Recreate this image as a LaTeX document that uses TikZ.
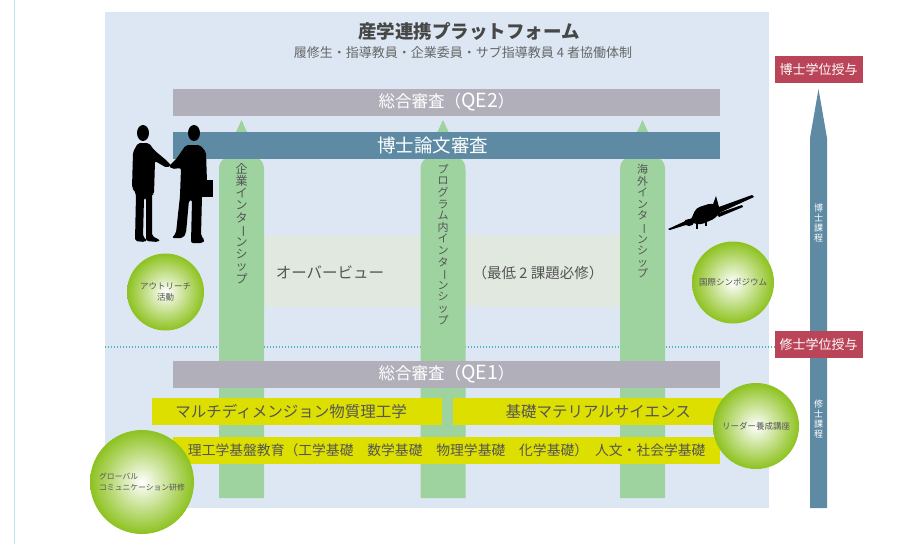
\documentclass[tikz,border=0pt]{standalone}
\usepackage{fontspec}
\setmainfont{Noto Sans CJK JP}
\usetikzlibrary{positioning}

\definecolor{platbg}{HTML}{DCE7F3}
\definecolor{qegray}{HTML}{B1AFB9}
\definecolor{steel}{HTML}{5E8BA3}
\definecolor{colgreen}{HTML}{9ED3A0}
\definecolor{bandgreen}{HTML}{E0E8DF}
\definecolor{lime}{HTML}{DCDF00}
\definecolor{degreered}{HTML}{BA4458}
\definecolor{ballgreen}{HTML}{8DC21F}
\definecolor{dotcyan}{HTML}{4CB4C8}
\definecolor{edgeline}{HTML}{BEE3F0}
\definecolor{textgray}{HTML}{555555}

% vertical long vowel mark for stacked text
\newcommand{\chouon}{\raisebox{0pt}[0.85em][0.15em]{\rotatebox[origin=c]{-90}{ー}}}
% larger latin part inside the review labels
\newcommand{\qe}[1]{{\fontsize{19.5}{20}\selectfont #1}}

\begin{document}
\begin{tikzpicture}[
    x=1pt, y=-1pt,
    bar/.style={rectangle, minimum width=547pt, minimum height=27pt, inner sep=0pt, text=white},
    qebar/.style={bar, fill=qegray, font=\fontsize{16.5}{18}\selectfont},
    thesis/.style={bar, fill=steel, font=\fontsize{18.5}{20}\selectfont},
    course/.style={rectangle, fill=lime, minimum height=27pt, inner sep=0pt, text=textgray, font=\fontsize{15.5}{17}\selectfont},
    degree/.style={rectangle, fill=degreered, minimum width=88pt, minimum height=27pt, inner sep=0pt, text=white, font=\fontsize{13}{15}\selectfont},
    ball/.style={circle, shade, inner color=white, outer color=ballgreen, inner sep=0pt, text=textgray, align=center, font=\fontsize{8.5}{11}\selectfont},
    tate/.style={anchor=north, align=center, inner sep=0pt, text=textgray, font=\fontsize{11}{11.6}\selectfont},
    tatesmall/.style={align=center, inner sep=0pt, text=white, font=\fontsize{9}{10}\selectfont}
]
\useasboundingbox (0,0) rectangle (923,544);

% page edge line and platform background
\draw[edgeline, line width=1.5pt] (14.5,0) -- (14.5,544);
\fill[platbg] (105,12) rectangle (769,508);

\node[font=\bfseries\fontsize{18.5}{20}\selectfont, text=black!72] (title) at (469,31) {産学連携プラットフォーム};
\node[font=\fontsize{13}{14}\selectfont, text=black!60] (subtitle) at (463,52) {履修生・指導教員・企業委員・サブ指導教員 4 者協働体制};

% overview band
\fill[bandgreen] (264,235) rectangle (620,307);
\node[font=\fontsize{15.5}{17}\selectfont, text=textgray] (overview) at (330,272) {オーバービュー};
\node[font=\fontsize{14.5}{16}\selectfont, text=textgray] (minimum) at (538,273) {（最低 2 課題必修）};

% doctoral course arrow
\fill[steel] (810,508) -- (810,138) -- (818.5,89) -- (827,138) -- (827,508) -- cycle;
\node[degree] (doctor) at (818.5,69.5) {博士学位授与};
\node[tatesmall] (dcourse) at (818.5,223) {博\\士\\課\\程};
\node[tatesmall] (mcourse) at (818.5,419) {修\\士\\課\\程};

% master degree line
\node[degree] (master) at (818.5,344.5) {修士学位授与};
\coordinate (lineL) at (105,347);
\draw[dotcyan, line width=1.1pt, dash pattern=on 1.4pt off 1.6pt] (lineL) -- (lineL -| master.west);

% internship columns
\foreach \cx in {241.5, 443, 642.5} {
    \fill[colgreen] (\cx,120) -- (\cx-18,159)
        .. controls (\cx-21,162) and (\cx-22.5,164) .. (\cx-22.5,170)
        -- (\cx-22.5,498) -- (\cx+22.5,498) -- (\cx+22.5,170)
        .. controls (\cx+22.5,164) and (\cx+21,162) .. (\cx+18,159) -- cycle;
}

% reviews
\node[qebar] (qe2) at (446.5,102.5) {総合審査（\qe{QE2}）};
\node[thesis, below=16pt of qe2] (thesis) {博士論文審査\hspace*{28pt}};
\node[qebar] (qe1) at (446.5,374.5) {総合審査（\qe{QE1}）};

% course bars
\node[course, minimum width=290pt, anchor=north west] (multi) at (152,398) {\hspace*{-12pt}マルチディメンジョン物質理工学};
\node[course, minimum width=290pt, anchor=north west] (basic) at (453,398) {基礎マテリアルサイエンス};
\node[course, minimum width=547pt, anchor=north west, font=\fontsize{13.8}{16}\selectfont] (base) at (173,437) {理工学基盤教育（工学基礎　数学基礎　物理学基礎　化学基礎）\hspace{0.5em}人文・社会学基礎};

% column labels
\node[tate, font=\fontsize{12}{12.2}\selectfont] (corp) at (241.5,163) {企\\業\\イ\\ン\\タ\\\chouon\\ン\\シ\\ッ\\プ};
\node[tate] (prog) at (443,164) {プ\\ロ\\グ\\ラ\\ム\\内\\イ\\ン\\タ\\\chouon\\ン\\シ\\ッ\\プ};
\node[tate] (abroad) at (642.5,164) {海\\外\\イ\\ン\\タ\\\chouon\\ン\\シ\\ッ\\プ};

% activities
\node[ball, minimum size=77pt] (outreach) at (165.5,292) {アウトリーチ\\活動};
\node[ball, minimum size=82pt] (sympo) at (733,282.5) {国際シンポジウム};
\node[ball, minimum size=86pt] (leader) at (756,426) {リーダー養成講座};
\node[ball, minimum size=104pt, align=left, font=\fontsize{7.8}{11}\selectfont] (global) at (142,482) {グローバル\\コミュニケーション研修};

% business people
\fill[black] (143,133) ellipse [x radius=6pt, y radius=8pt];
\fill[black, rounded corners=2pt] (133,152) -- (138,143) -- (149,143) -- (154,150) -- (166,160) -- (171,165)
    -- (167,168) -- (155,161) -- (154,194) -- (152,194) -- (152,236) -- (160,240) -- (158,242)
    -- (146,241) -- (146,198) -- (144,198) -- (143,237) -- (147,240) -- (145,242) -- (135,241)
    -- (136,194) -- (134,190) -- (132,188) -- cycle;
\fill[black] (194,133) ellipse [x radius=6pt, y radius=8pt];
\fill[black, rounded corners=2pt] (181,152) -- (186,145) -- (200,145) -- (206,152) -- (207,182) -- (204,186)
    -- (202,196) -- (201,236) -- (205,240) -- (203,243) -- (191,243) -- (192,200) -- (189,200)
    -- (186,233) -- (183,238) -- (172,238) -- (176,233) -- (180,196) -- (181,168) -- (172,169)
    -- (169,166) -- (177,158) -- cycle;
\fill[black] (201,180) rectangle (213,197);

% airplane
\fill[black] (668,229) -- (705,212) -- (752,195) -- (754,197) -- (708,218) -- (670,230) -- cycle;
\fill[black, rounded corners=4pt] (690,222) -- (696,208) -- (712,203) -- (722,208) -- (716,218) -- (700,225) -- cycle;
\fill[black] (712,207) -- (716,196) -- (719,207) -- cycle;
\fill[black] (716,214) -- (742,205) -- (743,207) -- (719,217) -- cycle;
\fill[black] (689,222.5) ellipse [x radius=5pt, y radius=3.5pt];
\draw[black, line width=1.2pt] (697,224) -- (697,229) (706,221) -- (706,226);

\end{tikzpicture}
\end{document}
